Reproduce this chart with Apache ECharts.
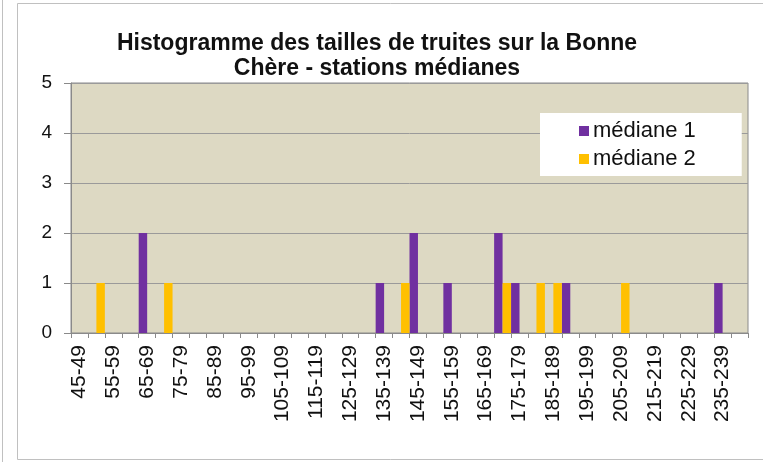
<!DOCTYPE html>
<html>
<head>
<meta charset="utf-8">
<script src="https://cdn.jsdelivr.net/npm/echarts@6/dist/echarts.min.js"></script>
<style>
html,body{margin:0;padding:0;background:#fff;}
#chart{width:763px;height:462px;}
</style>
</head>
<body>
<div id="chart"></div>
<script>
// Size classes (mm), 5 mm wide
var categories = ['45-49','50-54','55-59','60-64','65-69','70-74','75-79','80-84','85-89','90-94',
  '95-99','100-104','105-109','110-114','115-119','120-124','125-129','130-134','135-139','140-144',
  '145-149','150-154','155-159','160-164','165-169','170-174','175-179','180-184','185-189','190-194',
  '195-199','200-204','205-209','210-214','215-219','220-224','225-229','230-234','235-239','240-244'];
var mediane1 = [0,0,0,0,2,0,0,0,0,0, 0,0,0,0,0,0,0,0,1,0, 2,0,1,0,0,2,1,0,0,1, 0,0,0,0,0,0,0,0,1,0];
var mediane2 = [0,1,0,0,0,1,0,0,0,0, 0,0,0,0,0,0,0,0,0,1, 0,0,0,0,0,1,0,1,1,0, 0,0,1,0,0,0,0,0,0,0];
var yTicks = [0,1,2,3,4,5];
var titleText = 'Histogramme des tailles de truites sur la Bonne\nChère - stations médianes';

var FONT = 'Liberation Sans, Arial, sans-serif';
var chart = echarts.init(document.getElementById('chart'), null, {renderer:'canvas'});
chart.setOption({
  backgroundColor: '#fff',
  animation: false,
  graphic: [
    {type:'rect', shape:{x:17.5, y:3.5, width:760, height:456}, style:{fill:'none', stroke:'#c0c0c0', lineWidth:1}, z:-1},
    {type:'line', shape:{x1:2.5, y1:0, x2:2.5, y2:462}, style:{stroke:'#c0c0c0', lineWidth:1}, z:-1}
  ],
  title: {
    text: titleText,
    left: 372, top: 26, textAlign: 'center',
    textStyle: {fontFamily: FONT, fontSize: 23, fontWeight: 'bold', color: '#111', lineHeight: 25}
  },
  legend: {
    orient: 'vertical',
    left: 540, top: 113,
    backgroundColor: '#fff',
    padding: [7, 46, 6, 39],
    itemGap: 6,
    itemWidth: 10, itemHeight: 10,
    icon: 'rect',
    textStyle: {fontFamily: FONT, fontSize: 22, color: '#111', padding:[0,0,0,-1]},
    data: ['médiane 1', 'médiane 2']
  },
  grid: {left: 71, right: 15, top: 83, bottom: 129, show: true, backgroundColor: '#DDD9C3', borderColor: '#8a8a8a', borderWidth: 1},
  xAxis: {
    type: 'category',
    data: categories,
    axisLine: {lineStyle: {color: '#8a8a8a'}},
    axisTick: {show: true, interval: 0, alignWithLabel: false, length: 5, lineStyle: {color: '#8a8a8a'}},
    axisLabel: {interval: 1, rotate: 90, margin: 12, fontFamily: FONT, fontSize: 21, color: '#111'}
  },
  yAxis: {
    type: 'value', min: yTicks[0], max: yTicks[yTicks.length-1], interval: 1,
    axisLine: {show: true, lineStyle: {color: '#8a8a8a'}},
    axisTick: {show: true, length: 7, lineStyle: {color: '#8a8a8a'}},
    splitLine: {lineStyle: {color: '#9a9a9a'}},
    axisLabel: {margin: 19, fontFamily: FONT, fontSize: 19, color: '#111'}
  },
  series: [
    {name: 'médiane 1', type: 'bar', data: mediane1, itemStyle: {color: '#7030A0'}, barGap: '0%', barCategoryGap: '0%'},
    {name: 'médiane 2', type: 'bar', data: mediane2, itemStyle: {color: '#FFC000'}, barGap: '0%', barCategoryGap: '0%'}
  ]
});
</script>
</body>
</html>
